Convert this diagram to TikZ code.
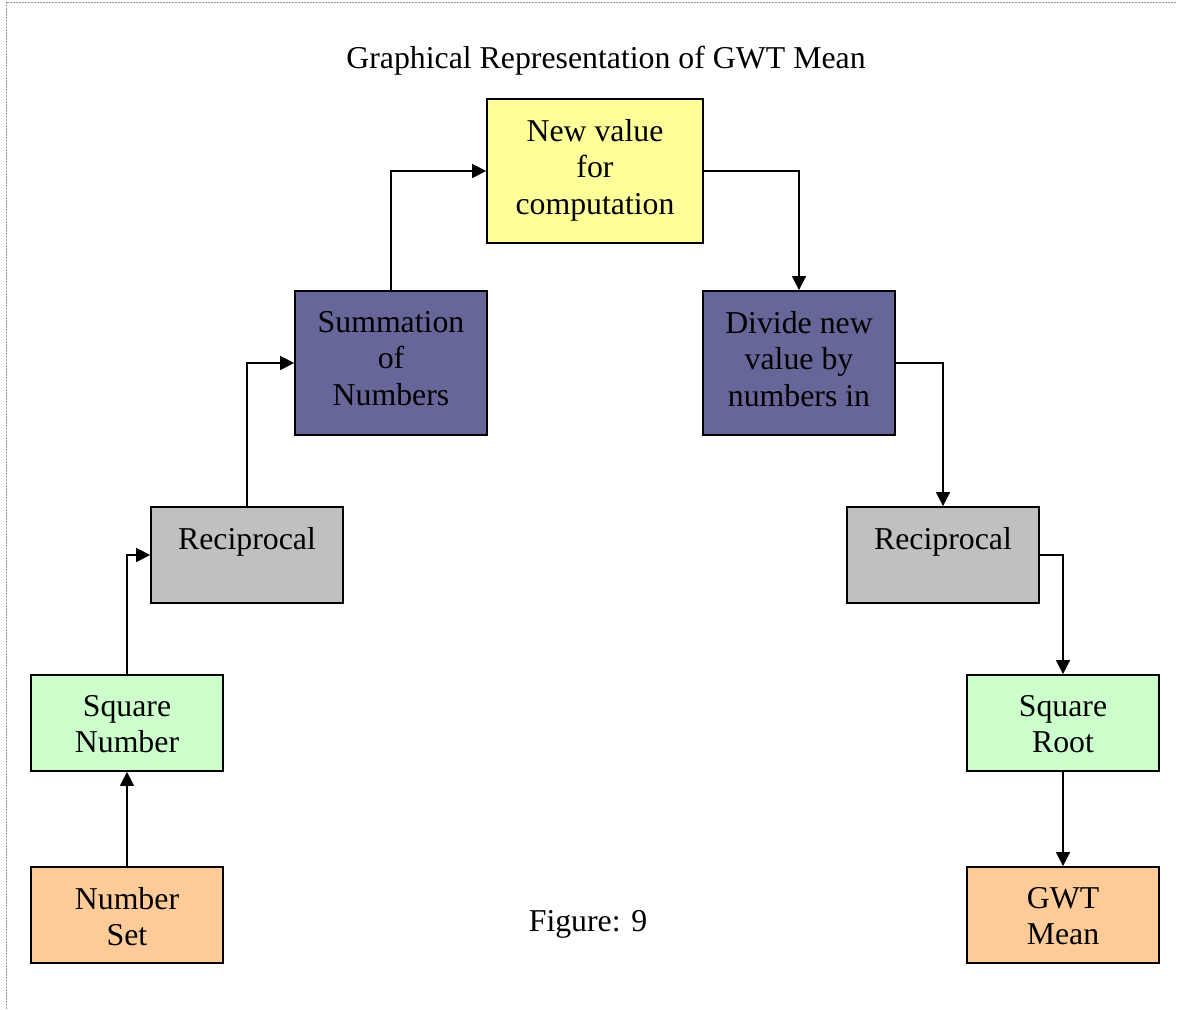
\documentclass[tikz,border=0pt]{standalone}
\usepackage{fontspec}
\setmainfont{Liberation Serif}
\usetikzlibrary{arrows.meta}
\definecolor{cOrange}{HTML}{FFCC99}
\definecolor{cGreen}{HTML}{CCFFCC}
\definecolor{cGray}{HTML}{C0C0C0}
\definecolor{cPurple}{HTML}{666699}
\definecolor{cYellow}{HTML}{FFFF99}
\newcommand\bodyfs{\fontsize{31.8}{36.5}\selectfont}
\tikzset{
  box/.style={draw=black, line width=1.8pt, inner sep=0pt, minimum width=192pt, minimum height=96pt},
  tallbox/.style={box, minimum height=144pt},
  lbl/.style={anchor=north, inner sep=0pt, align=center, font=\bodyfs, text=black},
  conn/.style={line width=1.6pt, -{Triangle[length=14pt,width=14pt]}},
  frameline/.style={draw=gray!80, line width=1pt, dash pattern=on 2pt off 1pt}
}
\begin{document}
\begin{tikzpicture}[x=1pt,y=-1pt]
\useasboundingbox (0,0) rectangle (1177,1009);
\coordinate (fA) at (6,1009);
\coordinate (fB) at (6,2);
\coordinate (fC) at (1177,2);
\draw[frameline] (fA) -- (fB) -- (fC);

\node[font=\bodyfs, anchor=base, inner sep=0pt] (title) at (606,68) {Graphical Representation of GWT Mean};
\node[font=\bodyfs, anchor=base, inner sep=0pt] (fig) at (588,931) {Figure: 9};

% boxes
\node[box, fill=cOrange] (ns) at (127,915) {};
\node[box, fill=cGreen] (sq) at (127,723) {};
\node[box, fill=cGray] (recl) at (247,555) {};
\node[tallbox, fill=cPurple] (sum) at (391,363) {};
\node[tallbox, fill=cYellow, minimum width=216pt] (nv) at (595,171) {};
\node[tallbox, fill=cPurple] (div) at (799,363) {};
\node[box, fill=cGray] (recr) at (943,555) {};
\node[box, fill=cGreen] (sqr) at (1063,723) {};
\node[box, fill=cOrange] (gwt) at (1063,915) {};

% labels
\node[lbl] (tns) at ([yshift=-21pt]ns.north) {Number\\Set};
\node[lbl] (tsq) at ([yshift=-21pt]sq.north) {Square\\Number};
\node[lbl] (trecl) at ([yshift=-21pt]recl.north) {Reciprocal};
\node[lbl] (tsum) at ([yshift=-21pt]sum.north) {Summation\\of\\Numbers};
\node[lbl] (tnv) at ([yshift=-21pt]nv.north) {New value\\for\\computation};
\node[lbl] (tdiv) at ([yshift=-21pt]div.north) {Divide new\\value by\\numbers in};
\node[lbl] (trecr) at ([yshift=-21pt]recr.north) {Reciprocal};
\node[lbl] (tsqr) at ([yshift=-21pt]sqr.north) {Square\\Root};
\node[lbl] (tgwt) at ([yshift=-21pt]gwt.north) {GWT\\Mean};

% connectors
\draw[conn] (ns.north) -- (sq.south);
\draw[conn] (sq.north) |- (recl.west);
\draw[conn] (recl.north) |- (sum.west);
\draw[conn] (sum.north) |- (nv.west);
\draw[conn] (nv.east) -| (div.north);
\draw[conn] (div.east) -| (recr.north);
\draw[conn] (recr.east) -| (sqr.north);
\draw[conn] (sqr.south) -- (gwt.north);
\end{tikzpicture}
\end{document}
